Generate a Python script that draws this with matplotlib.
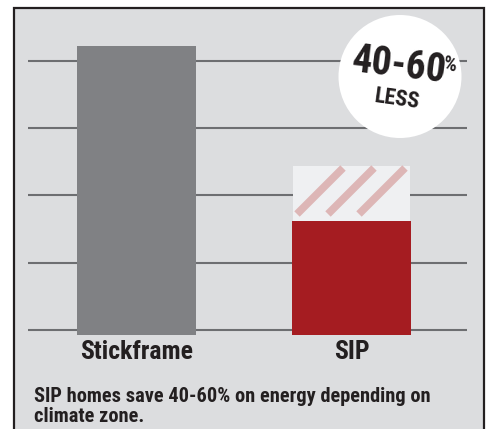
import matplotlib.pyplot as plt
import matplotlib.font_manager as fm
from matplotlib.patches import Rectangle, Ellipse

# data
categories = ['Stickframe', 'SIP']
energy_use = [105.5, 40.5]       # relative energy use (solid bars)
sip_range_top = 61.0             # upper end of the SIP savings range
grid_values = [0, 25, 50, 75, 100]
caption = 'SIP homes save 40-60% on energy depending on\nclimate zone.'
badge_big = '40-60'
badge_small = 'LESS'

# pick a bold condensed face that is actually installed
bold_faces = {f.name for f in fm.fontManager.ttflist if f.weight in (700, 'bold')}
candidates = ['Roboto Condensed', 'Archivo Narrow', 'Liberation Sans Narrow',
              'Barlow Condensed', 'Saira SemiCondensed', 'DejaVu Sans']
FONT_NAME = next(c for c in candidates if c in bold_faces or c == 'DejaVu Sans')
FONT = [FONT_NAME, 'DejaVu Sans']

BG = '#dcdddf'
GREY_BAR = '#808184'
RED_BAR = '#a51c21'
INK = '#231f20'

W, H = 486, 429
fig = plt.figure(figsize=(W / 100, H / 100), dpi=100)
fig.patch.set_facecolor('white')

# axes over the whole figure, data scale chosen so 0 sits on the baseline
px_per_unit = 67.3 / 25
px_per_cat = 215.0
x0_px, y0_px = 136.5, 330.0
ax = fig.add_axes([0, 0, 1, 1])
ax.set_xlim(-x0_px / px_per_cat, (W - x0_px) / px_per_cat)
ax.set_ylim(-(H - y0_px) / px_per_unit, y0_px / px_per_unit)
ax.axis('off')

def px2x(p):
    return (p - x0_px) / px_per_cat

def px2y(p):
    return (y0_px - p) / px_per_unit

# panel background + border
ax.add_patch(Rectangle((px2x(14), px2y(440)), px2x(484) - px2x(14), px2y(8) - px2y(440),
                       facecolor=BG, edgecolor=INK, linewidth=1.6, zorder=0))

# gridlines
ax.hlines(grid_values, px2x(27.5), px2x(467), color='#6d6e71', linewidth=1.5, zorder=1)

# bars
xs = range(len(categories))
bw = 119 / px_per_cat
bar_bottom = px2y(334.5)
ax.bar(xs, [v - bar_bottom for v in energy_use], bottom=bar_bottom, width=bw,
       color=[GREY_BAR, RED_BAR], zorder=3)

# SIP range box with stripes
ax.bar(1, sip_range_top - energy_use[1], bottom=energy_use[1], width=bw - 2 / px_per_cat,
       color='#eff0f2', zorder=2)
for sx in [297, 328, 359]:
    ax.plot([px2x(sx), px2x(sx + 46)], [px2y(214), px2y(168)],
            color='#ddb6b6', linewidth=5.5, solid_capstyle='butt', zorder=4)

# category labels
for i, c in enumerate(categories):
    ax.text(i, px2y(352), c, ha='center', va='center', fontsize=18.5,
            fontweight='bold', family=FONT, color=INK)

# badge circle
ax.add_patch(Ellipse((px2x(400), px2y(76.5)), 123 / px_per_cat, 123 / px_per_unit,
                     facecolor='white', edgecolor='none', zorder=5))
ax.text(px2x(399), px2y(66), badge_big, ha='center', va='center', fontsize=28.5,
        fontweight='bold', family=FONT, color=INK, rotation=-7, zorder=6)
ax.text(px2x(450), px2y(65), '%', ha='center', va='center', fontsize=15,
        fontweight='bold', family=FONT, color=INK, rotation=-7, zorder=6)
ax.text(px2x(397), px2y(99), badge_small, ha='center', va='center', fontsize=16,
        fontweight='bold', family=FONT, color=INK, rotation=-8, zorder=6)

# caption
ax.text(px2x(34), px2y(387), caption, ha='left', va='top', fontsize=14.7,
        fontweight='bold', family=FONT, color=INK, linespacing=1.05)

fig.savefig('out.png', dpi=100, facecolor=fig.get_facecolor())
